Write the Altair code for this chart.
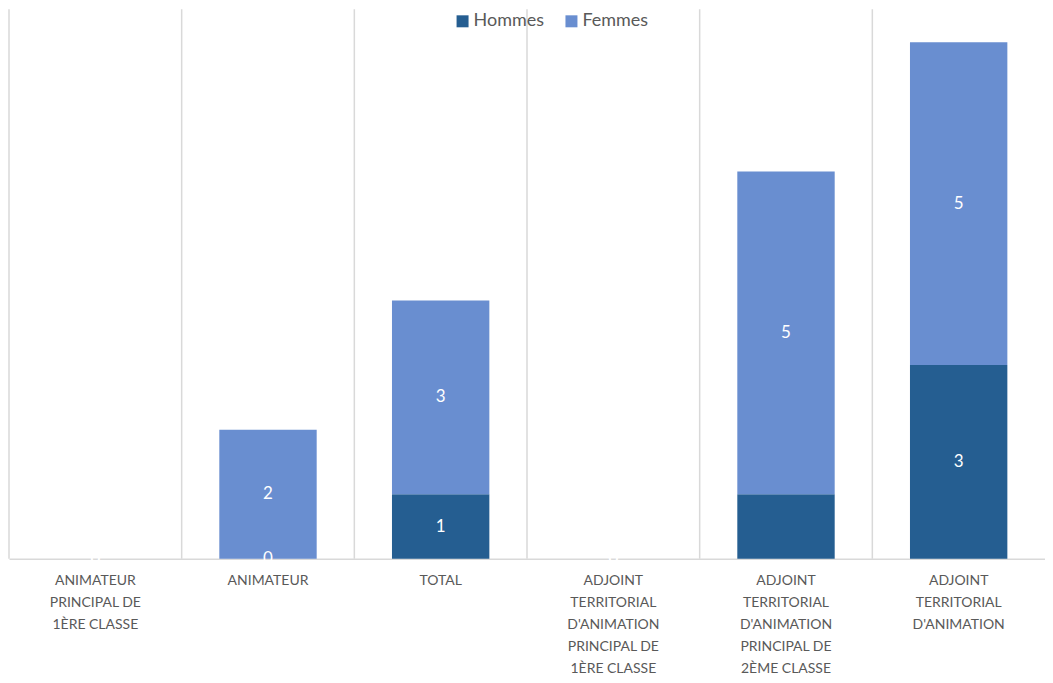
import altair as alt
import pandas as pd

categories = [
    "ANIMATEUR|PRINCIPAL DE|1ÈRE CLASSE",
    "ANIMATEUR",
    "TOTAL",
    "ADJOINT|TERRITORIAL|D'ANIMATION|PRINCIPAL DE|1ÈRE CLASSE",
    "ADJOINT|TERRITORIAL|D'ANIMATION|PRINCIPAL DE|2ÈME CLASSE",
    "ADJOINT|TERRITORIAL|D'ANIMATION",
]
hommes = [0, 0, 1, 0, 1, 3]
femmes = [0, 2, 3, 0, 5, 5]
hommes_labels = ["0", "0", "1", "0", "", "3"]
femmes_labels = ["0", "2", "3", "0", "5", "5"]
series = ["Hommes", "Femmes"]
colors = ["#255E91", "#698ED0"]

rows = []
for i, c in enumerate(categories):
    rows.append({"cat": c, "serie": "Hommes", "value": hommes[i], "label": hommes_labels[i], "ord": 0})
    rows.append({"cat": c, "serie": "Femmes", "value": femmes[i], "label": femmes_labels[i], "ord": 1})
df = pd.DataFrame(rows)
df_cats = pd.DataFrame({"cat": categories})

FONT = "Lato"
W, H = 1037, 550

x_scale = alt.Scale(paddingInner=0, paddingOuter=0)
y_scale = alt.Scale(domain=[0, 8.51], nice=False)

base = alt.Chart(df).transform_stack(
    stack="value", groupby=["cat"], as_=["y0", "y1"], sort=[alt.SortField("ord")]
).transform_calculate(mid="(datum.y0 + datum.y1) / 2")

# vertical separators at the start of each category band
grid = alt.Chart(df_cats).mark_rule(color="#d9d9d9", strokeWidth=1.5).encode(
    x=alt.X("cat:N", sort=categories, bandPosition=0, scale=x_scale, axis=None),
    y=alt.value(0),
    y2=alt.value(H),
)

x_enc = alt.X(
    "cat:N",
    sort=categories,
    title=None,
    scale=x_scale,
    axis=alt.Axis(
        grid=False,
        domainColor="#d9d9d9",
        domainWidth=1.5,
        ticks=False,
        labelAngle=0,
        labelExpr="split(datum.label, '|')",
        labelFont=FONT,
        labelFontSize=14,
        labelColor="#595959",
        labelLineHeight=22,
        labelPadding=15,
        labelBaseline="top",
    ),
)

bars = base.mark_bar(width={"band": 0.564}).encode(
    x=x_enc,
    y=alt.Y("y0:Q", scale=y_scale, axis=None),
    y2="y1:Q",
    color=alt.Color(
        "serie:N",
        scale=alt.Scale(domain=series, range=colors),
        sort=series,
        legend=alt.Legend(
            orient="none",
            legendX=445,
            legendY=3,
            direction="horizontal",
            title=None,
            symbolType="square",
            symbolSize=144,
            symbolStrokeWidth=0,
            labelFont=FONT,
            labelFontSize=18,
            labelColor="#595959",
            labelOffset=2,
            columnPadding=18,
        ),
    ),
)

labels = base.mark_text(color="white", font=FONT, fontSize=17, baseline="middle").encode(
    x=alt.X("cat:N", sort=categories, bandPosition=0.5),
    y=alt.Y("mid:Q", scale=y_scale, axis=None),
    text="label:N",
)

bars_and_labels = alt.layer(bars, labels)

chart = (
    alt.layer(grid, bars_and_labels)
    .resolve_scale(x="independent")
    .resolve_axis(x="independent")
    .properties(width=W, height=H, padding=0)
    .configure_view(stroke=None)
)

chart.save("out.html", embed_options={"renderer": "svg", "actions": False})
